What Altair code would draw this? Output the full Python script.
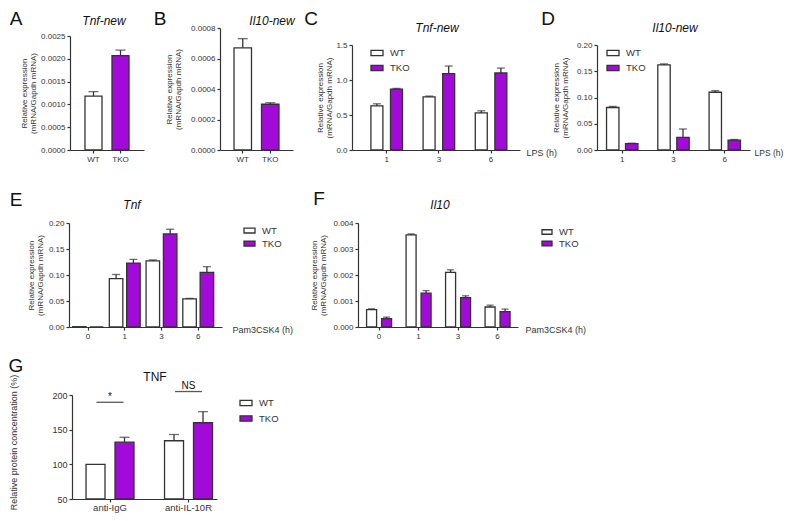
import altair as alt
import pandas as pd

# ---------------- data ----------------
GENO = ["WT", "TKO"]

# A: Tnf-new (WT vs TKO)
a_mean = [0.00118, 0.00207]
a_err = [0.00010, 0.00012]
# B: Il10-new
b_mean = [0.00067, 0.00030]
b_err = [0.00006, 0.00001]
# C: Tnf-new, LPS time course
lps_h = ["1", "3", "6"]
c_wt = [0.63, 0.76, 0.53]
c_wt_err = [0.03, 0.01, 0.03]
c_tko = [0.87, 1.09, 1.10]
c_tko_err = [0.01, 0.11, 0.07]
# D: Il10-new, LPS time course
d_wt = [0.081, 0.162, 0.110]
d_wt_err = [0.002, 0.002, 0.003]
d_tko = [0.012, 0.024, 0.019]
d_tko_err = [0.001, 0.016, 0.001]
# E: Tnf, Pam3CSK4 time course
pam_h = ["0", "1", "3", "6"]
e_wt = [0.0006, 0.093, 0.127, 0.054]
e_wt_err = [0.0, 0.008, 0.002, 0.001]
e_tko = [0.0, 0.123, 0.179, 0.105]
e_tko_err = [0.0, 0.007, 0.009, 0.011]
# F: Il10, Pam3CSK4 time course
f_wt = [0.00067, 0.00354, 0.00210, 0.00077]
f_wt_err = [0.00003, 0.00004, 0.00010, 0.00007]
f_tko = [0.00032, 0.00130, 0.00113, 0.00059]
f_tko_err = [0.00006, 0.00010, 0.00007, 0.00010]
# G: TNF protein
g_cat = ["anti-IgG", "anti-IL-10R"]
g_wt = [100, 134]
g_wt_err = [0, 9]
g_tko = [132, 160]
g_tko_err = [7, 16]
g_sig = ["*", "NS"]
g_sig_line = [189.5, 205]
g_sig_text = [197, 213]

# ---------------- style ----------------
PURPLE = "#A10AD8"
INK = "#333333"
FONT = "Liberation Sans"
W, H = 775, 505
O = 8  # page margin
RECT = "M-1,-0.45L1,-0.45L1,0.45L-1,0.45Z"
YT = ["Relative expression", "(mRNA/Gapdh mRNA)"]


def simple_df(mean, err, base):
    return pd.DataFrame({"cat": GENO, "geno": GENO, "mean": mean,
                         "top": [m + e for m, e in zip(mean, err)],
                         "err": err, "base": [base] * len(mean)})


def grouped_df(cats, wt, wt_err, tko, tko_err, base):
    rows = []
    for c, m, e in zip(cats, wt, wt_err):
        rows.append({"cat": c, "geno": "WT", "mean": m, "top": m + e, "err": e, "base": base})
    for c, m, e in zip(cats, tko, tko_err):
        rows.append({"cat": c, "geno": "TKO", "mean": m, "top": m + e, "err": e, "base": base})
    return pd.DataFrame(rows)


def panel(df, cats, xr, pi, po, align, ydom, yr, yvals, yfmt, ytitle, min_ext,
          grouped, off_pi=0.35, cap=8, xtitle=None, xtitle_x=None, xtitle_size=9,
          legend=None, xlab_size=8, ylab_size=8, ytitle_size=8, xlab_pad=2,
          ytitle_kw=None, extra=None):
    axis_x, axis_y = xr[0], yr[0]
    xaxis_kw = dict(orient="bottom", offset=(axis_y - O) - H, labelAngle=0,
                    labelFontSize=xlab_size, labelPadding=xlab_pad)
    if xtitle:
        xaxis_kw.update(title=xtitle, titleX=xtitle_x - O, titleY=2, titleAngle=0,
                        titleAlign="left", titleBaseline="middle", titleFontSize=xtitle_size)
    else:
        xaxis_kw.update(title=None)
    X = alt.X("cat:N", sort=cats,
              scale=alt.Scale(domain=cats, range=[xr[0] - O, xr[1] - O],
                              paddingInner=pi, paddingOuter=po, align=align),
              axis=alt.Axis(**xaxis_kw))

    yaxis_kw = dict(orient="left", offset=-(axis_x - O), values=yvals,
                    format=yfmt, title=ytitle, minExtent=min_ext,
                    titlePadding=2, titleLineHeight=9,
                    labelFontSize=ylab_size, titleFontSize=ytitle_size,
                    labelOverlap=False)
    if ytitle_kw:
        yaxis_kw.update(ytitle_kw)

    def Y(field):
        return alt.Y(f"{field}:Q",
                     scale=alt.Scale(domain=ydom, range=[yr[0] - O, yr[1] - O],
                                     nice=False, zero=False),
                     axis=alt.Axis(**yaxis_kw))

    if legend:
        lg = alt.Legend(orient="none", legendX=legend[0] - O, legendY=legend[1] - O,
                        title=None, symbolType=RECT, symbolSize=legend[2],
                        symbolStrokeColor=INK, symbolStrokeWidth=1.3,
                        labelFontSize=9.5, labelFont=FONT, labelColor=INK,
                        rowPadding=legend[3], padding=0, labelOffset=6,
                        direction="vertical")
    else:
        lg = None
    C = alt.Color("geno:N", sort=GENO,
                  scale=alt.Scale(domain=GENO, range=["#ffffff", PURPLE]), legend=lg)
    enc_x = dict(x=X)
    if grouped:
        enc_x["xOffset"] = alt.XOffset("geno:N", sort=GENO,
                                       scale=alt.Scale(domain=GENO, paddingInner=off_pi,
                                                       paddingOuter=0))
    bars = alt.Chart(df).mark_bar(stroke=INK, strokeWidth=1.3).encode(
        y=Y("mean"), y2=alt.Y2("base"), color=C, **enc_x)
    edf = df[df["err"] > 0]
    rule = alt.Chart(edf).mark_rule(color=INK, strokeWidth=1.3).encode(
        y=Y("mean"), y2=alt.Y2("top"), **enc_x)
    capm = alt.Chart(edf).mark_tick(color=INK, thickness=1.3, size=cap,
                                    orient="horizontal").encode(y=Y("top"), **enc_x)
    layers = [bars, rule, capm]
    if extra is not None:
        layers += extra(X, Y)
    return alt.layer(*layers)


def txt(s, x, y, size, italic=False, align="center"):
    return alt.Chart(pd.DataFrame({"k": [0]})).mark_text(
        text=s, font=FONT, fontSize=size, fontStyle="italic" if italic else "normal",
        align=align, baseline="middle", color="#111111").encode(
        x=alt.value(x - O), y=alt.value(y - O))


# ---------------- panels ----------------
pA = panel(simple_df(a_mean, a_err, 0), GENO, [70, 144], 0.37, 0.555, 0.5,
           [0, 0.0025], [150, 36], [0, 0.0005, 0.001, 0.0015, 0.002, 0.0025], ".4f",
           YT, 31, grouped=False, cap=10)
pB = panel(simple_df(b_mean, b_err, 0), GENO, [220, 293], 0.364, 0.51, 0.5,
           [0, 0.0008], [150, 28], [0, 0.0002, 0.0004, 0.0006, 0.0008], ".4f",
           YT, 36, grouped=False, cap=10)
pC = panel(grouped_df(lps_h, c_wt, c_wt_err, c_tko, c_tko_err, 0), lps_h,
           [352, 520], 0.395, 0.307, 0.59, [0, 1.5], [150, 45], [0, 0.5, 1.0, 1.5], ".1f",
           YT, 17, grouped=True, off_pi=0.388, cap=8, xtitle="LPS (h)", xtitle_x=526,
           legend=(370, 46, 144, 2))
pD = panel(grouped_df(lps_h, d_wt, d_wt_err, d_tko, d_tko_err, 0), lps_h,
           [597, 750], 0.388, 0.186, 0.5, [0, 0.2], [150, 45], [0, 0.05, 0.1, 0.15, 0.2], ".2f",
           YT, 26, grouped=True, off_pi=0.347, cap=8, xtitle="LPS (h)", xtitle_x=754,
           xtitle_size=8.5, legend=(606, 46, 144, 2))
pE = panel(grouped_df(pam_h, e_wt, e_wt_err, e_tko, e_tko_err, 0), pam_h,
           [69, 222], 0.16, 0.162, 0.3, [0, 0.2], [327, 223], [0, 0.05, 0.1, 0.15, 0.2], ".2f",
           YT, 23, grouped=True, off_pi=0.22, cap=8, xtitle="Pam3CSK4 (h)", xtitle_x=232,
           legend=(243, 224, 121, 1))
pF = panel(grouped_df(pam_h, f_wt, f_wt_err, f_tko, f_tko_err, 0), pam_h,
           [358, 518], 0.367, 0.209, 0.52, [0, 0.004], [327, 223],
           [0, 0.001, 0.002, 0.003, 0.004], ".3f",
           YT, 29, grouped=True, off_pi=0.333, cap=7, xtitle="Pam3CSK4 (h)", xtitle_x=525,
           legend=(541, 226, 100, 0.5))


def g_extra(X, Y):
    sdf = pd.DataFrame({"cat": g_cat, "sig": g_sig, "line": g_sig_line, "ty": g_sig_text})
    ln = alt.Chart(sdf).mark_tick(color="#111111", thickness=1.3, size=27,
                                  orient="horizontal").encode(x=X, y=Y("line"))
    tx = alt.Chart(sdf).mark_text(font=FONT, fontSize=10, color="#111111",
                                  baseline="middle").encode(x=X, y=Y("ty"), text="sig:N")
    return [ln, tx]


pG = panel(grouped_df(g_cat, g_wt, g_wt_err, g_tko, g_tko_err, 50), g_cat,
           [72, 217], 0.389, 0.118, 0.757, [50, 200], [499, 395], [50, 100, 150, 200], "d",
           "Relative protein concentration (%)", 50, grouped=True, off_pi=0.345, cap=10,
           legend=(239, 396, 144, 2.5), xlab_size=9.5, ylab_size=9, ytitle_size=9,
           xlab_pad=0, extra=g_extra,
           ytitle_kw=dict(titleX=13 - 72, titleY=442 - O, titleAngle=270,
                          titleAlign="center", titleBaseline="middle"))

texts = [
    txt("A", 16, 19, 19), txt("B", 160, 19, 19), txt("C", 311, 19, 19), txt("D", 548, 19, 19),
    txt("E", 16, 200, 19), txt("F", 319, 199, 19), txt("G", 16, 366, 19),
    txt("Tnf-new", 104, 21, 12, italic=True), txt("Il10-new", 272, 21, 12, italic=True),
    txt("Tnf-new", 437, 28, 12, italic=True), txt("Il10-new", 675, 28, 12, italic=True),
    txt("Tnf", 132, 205, 12, italic=True), txt("Il10", 440, 205, 12, italic=True),
    txt("TNF", 155, 377, 12),
]

chart = alt.layer(pA, pB, pC, pD, pE, pF, pG, *texts).resolve_scale(
    x="independent", y="independent", xOffset="independent", color="independent"
).resolve_axis(x="independent", y="independent").resolve_legend(
    color="independent"
).properties(
    width=W, height=H, autosize=alt.AutoSizeParams(type="none"), padding=0
).configure_view(stroke=None).configure_axis(
    domainColor=INK, domainWidth=1.2, tickColor=INK, tickWidth=1.2, tickSize=3,
    labelFont=FONT, labelFontSize=8, labelColor=INK, titleFont=FONT, titleFontSize=8,
    titleColor=INK, titleFontWeight="normal", grid=False, labelPadding=2
)

chart.save("out.html", embed_options={"renderer": "svg", "actions": False})
